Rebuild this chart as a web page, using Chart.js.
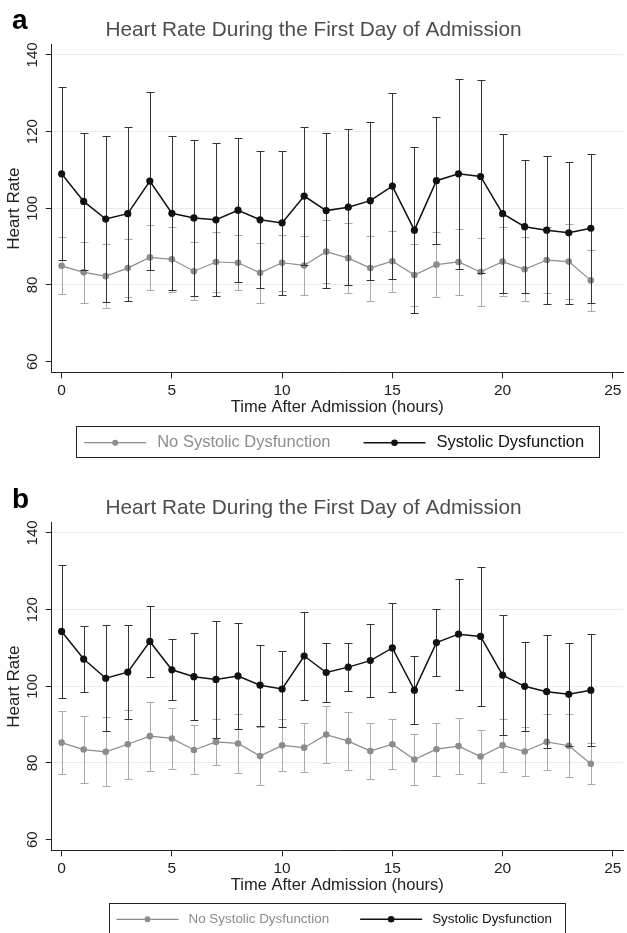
<!DOCTYPE html>
<html>
<head>
<meta charset="utf-8">
<title>Heart Rate During the First Day of Admission</title>
<script src="https://cdn.jsdelivr.net/npm/chart.js@4.4.1/dist/chart.umd.min.js"></script>
<style>
  html, body { margin: 0; padding: 0; background: #fff; overflow: hidden; }
  #wrap { position: relative; width: 627px; height: 933px; overflow: hidden; }
  .panel { position: absolute; left: 0; width: 627px; height: 478px; }
</style>
</head>
<body>
<div id="wrap">
  <div class="panel" style="top:0"><canvas id="chartA" width="627" height="478"></canvas></div>
  <div class="panel" style="top:478px"><canvas id="chartB" width="627" height="478"></canvas></div>
</div>
<script>
// hours after admission
const hours = [0, 1, 2, 3, 4, 5, 6, 7, 8, 9, 10, 11, 12, 13, 14, 15, 16, 17, 18, 19, 20, 21, 22, 23, 24];
const xTicks = [0, 5, 10, 15, 20, 25];
const yTicks = [60, 80, 100, 120, 140];

// panel a
const noSysMeanA = [85.0, 83.3, 82.3, 84.4, 87.2, 86.7, 83.6, 86.0, 85.8, 83.2, 85.8, 85.1, 88.7, 87.0, 84.4, 86.2, 82.6, 85.3, 86.0, 83.4, 86.1, 84.1, 86.5, 86.1, 81.2];
const noSysSdA = [7.4, 8.0, 8.3, 7.5, 8.4, 8.4, 7.5, 7.9, 7.2, 7.8, 7.3, 7.8, 8.3, 9.1, 8.5, 8.0, 8.2, 8.4, 8.6, 8.9, 9.1, 8.3, 8.7, 9.7, 8.0];
const sysMeanA = [109.0, 101.8, 97.2, 98.6, 107.1, 98.7, 97.5, 97.0, 99.5, 97.0, 96.2, 103.2, 99.4, 100.3, 102.0, 105.8, 94.3, 107.2, 109.0, 108.3, 98.6, 95.2, 94.3, 93.6, 94.8];
const sysSdA = [22.6, 17.8, 21.6, 22.7, 23.2, 20.1, 20.4, 20.0, 18.8, 17.9, 18.7, 18.1, 20.3, 20.3, 20.6, 24.3, 21.6, 16.6, 24.7, 25.1, 20.8, 17.3, 19.3, 18.6, 19.4];

// panel b
const noSysMeanB = [85.3, 83.5, 82.9, 84.9, 87.0, 86.4, 83.4, 85.5, 85.1, 81.8, 84.6, 84.0, 87.4, 85.7, 83.1, 84.9, 80.9, 83.6, 84.4, 81.7, 84.6, 83.0, 85.5, 84.5, 79.8];
const noSysSdB = [8.2, 8.8, 9.0, 9.0, 9.0, 7.9, 6.4, 5.9, 7.6, 7.6, 6.8, 6.4, 7.5, 7.6, 7.4, 6.5, 6.6, 6.9, 7.3, 7.0, 7.0, 6.4, 7.4, 8.2, 5.4];
const sysMeanB = [114.3, 107.1, 102.1, 103.7, 111.7, 104.3, 102.5, 101.8, 102.7, 100.3, 99.3, 107.9, 103.6, 105.0, 106.7, 110.0, 99.0, 111.4, 113.6, 113.0, 102.9, 100.0, 98.6, 97.9, 99.0];
const sysSdB = [17.4, 8.6, 13.8, 12.3, 9.3, 8.0, 11.3, 15.2, 13.8, 10.6, 9.9, 11.6, 7.6, 6.2, 9.5, 11.6, 8.8, 8.8, 14.5, 18.1, 15.6, 11.6, 14.7, 13.4, 14.6];

const FONT = '"Liberation Sans", Arial, Helvetica, sans-serif';
Chart.defaults.font.family = FONT;

const GRAY = "#8c8c8c";
const BLACK = "#111111";

// vertical error bars with caps, drawn just before each line
const errorBars = {
  id: "errorBars",
  beforeDatasetDraw(chart, args) {
    const ds = chart.data.datasets[args.index];
    if (!ds.errors) return;
    const { ctx, scales: { x, y } } = chart;
    ctx.save();
    ctx.strokeStyle = ds.errorColor;
    ctx.lineWidth = 1;
    ds.data.forEach((p, i) => {
      const px = Math.round(x.getPixelForValue(p.x)) + 0.5;
      const top = Math.round(y.getPixelForValue(p.y + ds.errors[i])) + 0.5;
      const bot = Math.round(y.getPixelForValue(p.y - ds.errors[i])) + 0.5;
      ctx.beginPath();
      ctx.moveTo(px, top);
      ctx.lineTo(px, bot);
      ctx.moveTo(px - 4, top);
      ctx.lineTo(px + 4, top);
      ctx.moveTo(px - 4, bot);
      ctx.lineTo(px + 4, bot);
      ctx.stroke();
    });
    ctx.restore();
  },
};

// boxed legend under the x axis + panel letter
const boxLegend = {
  id: "boxLegend",
  afterDraw(chart, args, opts) {
    const { ctx, chartArea } = chart;
    ctx.save();

    ctx.font = "bold 28px " + FONT;
    ctx.fillStyle = "#000";
    ctx.textBaseline = "alphabetic";
    ctx.fillText(opts.letter, 12, opts.letterY);

    ctx.font = opts.fontSize + "px " + FONT;
    const sets = chart.data.datasets.slice().sort((a, b) => a.legendOrder - b.legendOrder);
    const symW = 62;
    const widths = sets.map((ds) => ctx.measureText(ds.label).width);
    let total = 0;
    widths.forEach((w, i) => {
      total += symW + opts.gap + w + (i ? opts.itemGap : 0);
    });
    const boxW = total + opts.padL + opts.padR;
    const cx = (chartArea.left + chartArea.right) / 2;
    const left = Math.round(cx - boxW / 2) + 0.5;
    ctx.strokeStyle = "#222";
    ctx.lineWidth = 1;
    ctx.strokeRect(left, opts.top + 0.5, Math.round(boxW), opts.height);

    let x = left + opts.padL;
    const cy = opts.cy;
    ctx.textBaseline = "middle";
    sets.forEach((ds, i) => {
      ctx.strokeStyle = ds.borderColor;
      ctx.lineWidth = ds.borderWidth;
      ctx.beginPath();
      ctx.moveTo(x, cy);
      ctx.lineTo(x + symW, cy);
      ctx.stroke();
      ctx.fillStyle = ds.pointBackgroundColor;
      ctx.beginPath();
      ctx.arc(x + symW / 2, cy, ds.pointRadius - 0.3, 0, Math.PI * 2);
      ctx.fill();
      ctx.fillStyle = ds.legendTextColor;
      ctx.fillText(ds.label, x + symW + opts.gap, cy);
      x += symW + opts.gap + widths[i] + opts.itemGap;
    });
    ctx.restore();
  },
};

function points(means) {
  return hours.map((h, i) => ({ x: h, y: means[i] }));
}

function makePanel(id, letter, noSysMean, noSysSd, sysMean, sysSd, legendOpts) {
  new Chart(document.getElementById(id), {
    type: "line",
    data: {
      datasets: [
        {
          label: "No Systolic Dysfunction",
          data: points(noSysMean),
          errors: noSysSd,
          errorColor: "#ababab",
          borderColor: GRAY,
          backgroundColor: GRAY,
          pointBackgroundColor: GRAY,
          legendTextColor: GRAY,
          borderWidth: 1.2,
          pointRadius: 3.3,
          pointBorderWidth: 0,
          tension: 0,
          order: 2,
          legendOrder: 0,
        },
        {
          label: "Systolic Dysfunction",
          data: points(sysMean),
          errors: sysSd,
          errorColor: "#333333",
          borderColor: BLACK,
          backgroundColor: BLACK,
          pointBackgroundColor: BLACK,
          legendTextColor: BLACK,
          borderWidth: 1.5,
          pointRadius: 3.6,
          pointBorderWidth: 0,
          tension: 0,
          order: 1,
          legendOrder: 1,
        },
      ],
    },
    options: {
      responsive: false,
      animation: false,
      events: [],
      layout: { padding: { top: 0, left: 0, right: 0, bottom: 478 - 372.3 - 50 } },
      plugins: {
        legend: { display: false },
        tooltip: { enabled: false },
        title: {
          display: true,
          text: "Heart Rate During the First Day of Admission",
          color: "#4d4d4d",
          font: { size: 20.8, weight: "normal", family: FONT },
          padding: { top: 17.7, bottom: 2.3 },
        },
        boxLegend: Object.assign({ letter }, legendOpts),
      },
      scales: {
        x: {
          type: "linear",
          min: -0.45,
          max: 25.46,
          afterBuildTicks: (s) => {
            s.ticks = xTicks.map((v) => ({ value: v }));
          },
          afterFit: (s) => {
            s.height = 50;
          },
          grid: { drawOnChartArea: false, tickLength: 6, tickColor: "#222", tickWidth: 1 },
          border: { color: "#222", width: 1 },
          ticks: { font: { size: 15.5 }, color: "#222", padding: 3.1, maxRotation: 0, autoSkip: false },
          title: {
            display: true,
            text: "Time After Admission (hours)",
            font: { size: 16.5 },
            color: "#222",
            padding: { top: 0, bottom: 4.6 },
          },
        },
        y: {
          type: "linear",
          min: 57.23,
          max: 142.6,
          afterBuildTicks: (s) => {
            s.ticks = yTicks.map((v) => ({ value: v }));
          },
          afterFit: (s) => {
            s.width = 51.7;
          },
          grid: {
            color: (c) => (c.tick && c.tick.value === 60 ? "rgba(0,0,0,0)" : "#ececec"),
            tickLength: 6,
            tickColor: "#222",
            tickWidth: 1,
          },
          border: { color: "#222", width: 1 },
          ticks: { font: { size: 15 }, color: "#222", minRotation: 90, maxRotation: 90, crossAlign: "center", padding: 0.2 },
          title: {
            display: true,
            text: "Heart Rate",
            font: { size: 17 },
            color: "#222",
            padding: { top: 4.3, bottom: 0 },
          },
        },
      },
    },
    plugins: [errorBars, boxLegend],
  });
}

makePanel("chartA", "a", noSysMeanA, noSysSdA, sysMeanA, sysSdA, {
  fontSize: 16.5, gap: 11, itemGap: 33, padL: 7.7, padR: 15, top: 426, height: 31, cy: 442.7, letterY: 28.5,
});
makePanel("chartB", "b", noSysMeanB, noSysSdB, sysMeanB, sysSdB, {
  fontSize: 13.4, gap: 10, itemGap: 31, padL: 7, padR: 13.7, top: 425, height: 31, cy: 441.3, letterY: 30.3,
});
</script>
</body>
</html>
